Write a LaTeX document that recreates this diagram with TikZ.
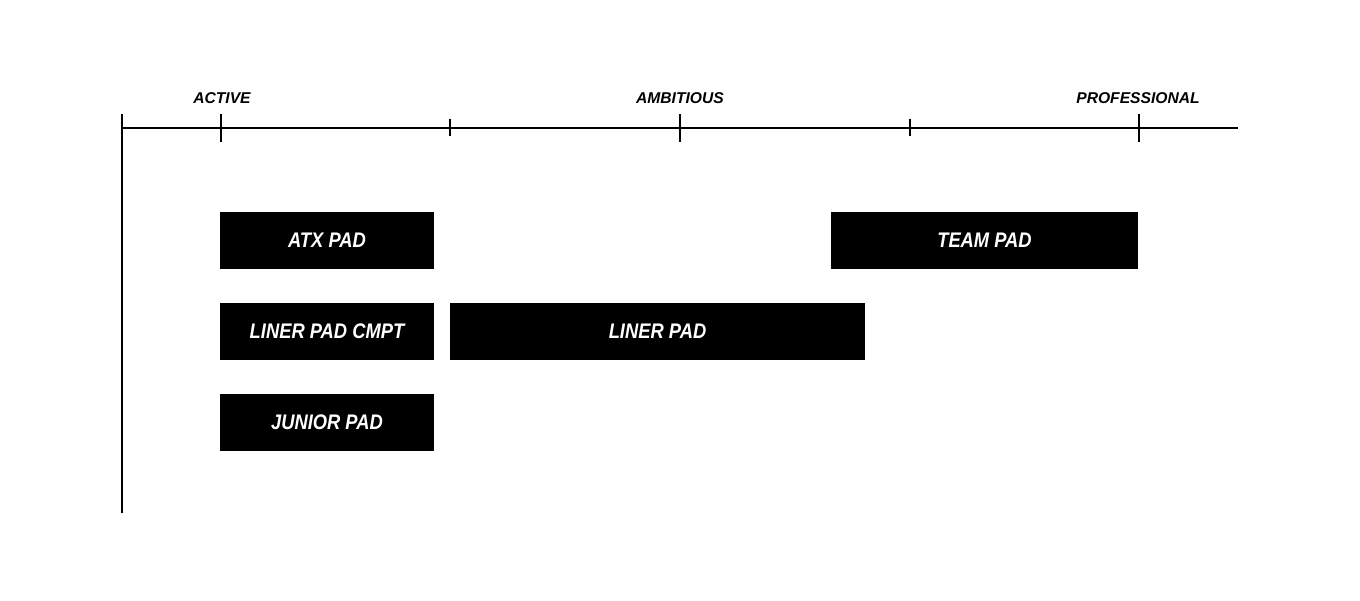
\documentclass[tikz,border=0pt]{standalone}
\usepackage{fontspec}
\setmainfont{Liberation Sans}
\newfontfamily\padfont{Liberation Sans}[FakeStretch=0.87]
\usepackage{tikz}
\usetikzlibrary{positioning}
\usepackage{xcolor}

\begin{document}
\begin{tikzpicture}
[x=0.02cm, y=-0.02cm,
% The axis style is used for the two axes and the ticks
axis/.style={line width=1.15pt, black},
% The level style is used to write the name of each level
level/.style={inner sep=0pt, font=\fontsize{8.9}{10}\selectfont\bfseries\itshape},
% The pad style is used to draw the black bars
pad/.style={rectangle, fill=black, inner sep=0pt, minimum height=1.14cm, text=white, font=\fontsize{12}{14}\selectfont\padfont\bfseries\itshape}
]
\useasboundingbox (0,0) rectangle (1360,600);
% Draw axes
\coordinate (origin) at (122,128);
\coordinate (xend) at (1238,128);
\coordinate (ytop) at (122,114);
\coordinate (yend) at (122,513);
\draw[axis] (origin) -- (xend);
\draw[axis] (ytop) -- (yend);
% Draw ticks
\foreach \x in {221,680,1139} \draw[axis] (\x,114) -- (\x,142);
\foreach \x in {450,910} \draw[axis] (\x,119) -- (\x,136);
% Draw levels
\node[level] (active) at (222,98) {ACTIVE};
\node[level] (ambitious) at (680,98) {AMBITIOUS};
\node[level] (professional) at (1138,98) {PROFESSIONAL};
% Draw pads
\node[pad, minimum width=4.28cm] (atx) at (327,240.5) {ATX PAD};
\node[pad, minimum width=6.14cm] (team) at (984.5,240.5) {TEAM PAD};
\node[pad, minimum width=4.28cm] (cmpt) at (327,331.5) {LINER PAD CMPT};
\node[pad, minimum width=8.3cm] (liner) at (657.5,331.5) {LINER PAD};
\node[pad, minimum width=4.28cm] (junior) at (327,422.5) {JUNIOR PAD};
\end{tikzpicture}
\end{document}
